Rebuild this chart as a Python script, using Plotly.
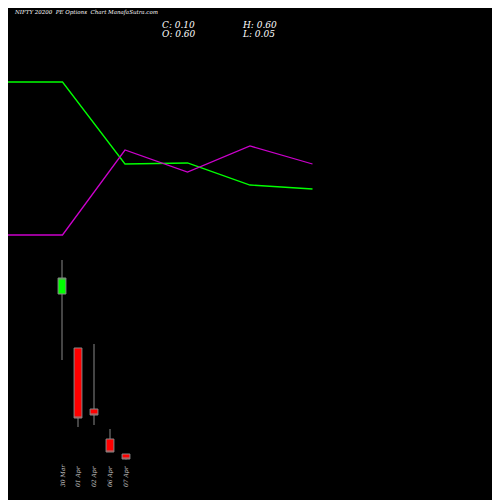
import plotly.graph_objects as go

dates = ["30 Mar", "01 Apr", "02 Apr", "06 Apr", "07 Apr"]
opens = [16.6, 11.2, 5.1, 2.1, 0.6]
highs = [20.0, 11.2, 11.6, 3.1, 0.6]
lows = [10.0, 3.3, 3.5, 0.8, 0.05]
closes = [18.2, 4.2, 4.5, 0.8, 0.1]

line_x = [0, 1, 2, 3, 4, 5]
green_vals = [418, 418, 336, 337, 315, 311]
magenta_vals = [265, 265, 350, 328, 354, 336]

xs = list(range(len(dates)))
fig = go.Figure()
fig.add_trace(go.Scatter(x=line_x, y=green_vals, mode="lines", line=dict(color="#00ff00", width=1.3),
                         xaxis="x2", yaxis="y2", hoverinfo="skip"))
fig.add_trace(go.Scatter(x=line_x, y=magenta_vals, mode="lines", line=dict(color="#cc00cc", width=1.3),
                         xaxis="x2", yaxis="y2", hoverinfo="skip"))
fig.add_trace(go.Candlestick(x=xs, open=opens, high=highs, low=lows, close=closes,
                             increasing=dict(line=dict(color="#888888", width=1), fillcolor="#00ff00"),
                             decreasing=dict(line=dict(color="#888888", width=1), fillcolor="#ff0000"),
                             whiskerwidth=0))
for i, d in enumerate(dates):
    fig.add_annotation(x=i, y=-1.6, text="<i>" + d + "</i>", textangle=-90, showarrow=False,
                       font=dict(family="DejaVu Serif", size=6, color="#cccccc"))
anns = [
    (12, 12, "NIFTY 20200  PE Options  Chart ManafaSutra.com", 5.5),
    (160, 25, "C: 0.10", 9), (160, 34, "O: 0.60", 9),
    (240, 25, "H: 0.60", 9), (240, 34, "L: 0.05", 9),
]
for px, py, t, s in anns:
    fig.add_annotation(x=(px - 8) / 500, y=1 - (py - 8) / 500, xref="paper", yref="paper",
                       text="<i>" + t + "</i>", showarrow=False, xanchor="left", yanchor="middle",
                       font=dict(family="DejaVu Serif", size=s, color="#ffffff"))
fig.update_layout(
    width=500, height=500, margin=dict(l=0, r=0, t=0, b=0),
    paper_bgcolor="#000000", plot_bgcolor="#000000", showlegend=False,
    xaxis=dict(range=[-3.375, 27.875], visible=False, rangeslider=dict(visible=False)),
    yaxis=dict(range=[-4.8, 45.2], visible=False),
    xaxis2=dict(range=[0.128, 8.128], visible=False, overlaying="x"),
    yaxis2=dict(range=[-8, 492], visible=False, overlaying="y"),
)
fig.write_html("out.html")
